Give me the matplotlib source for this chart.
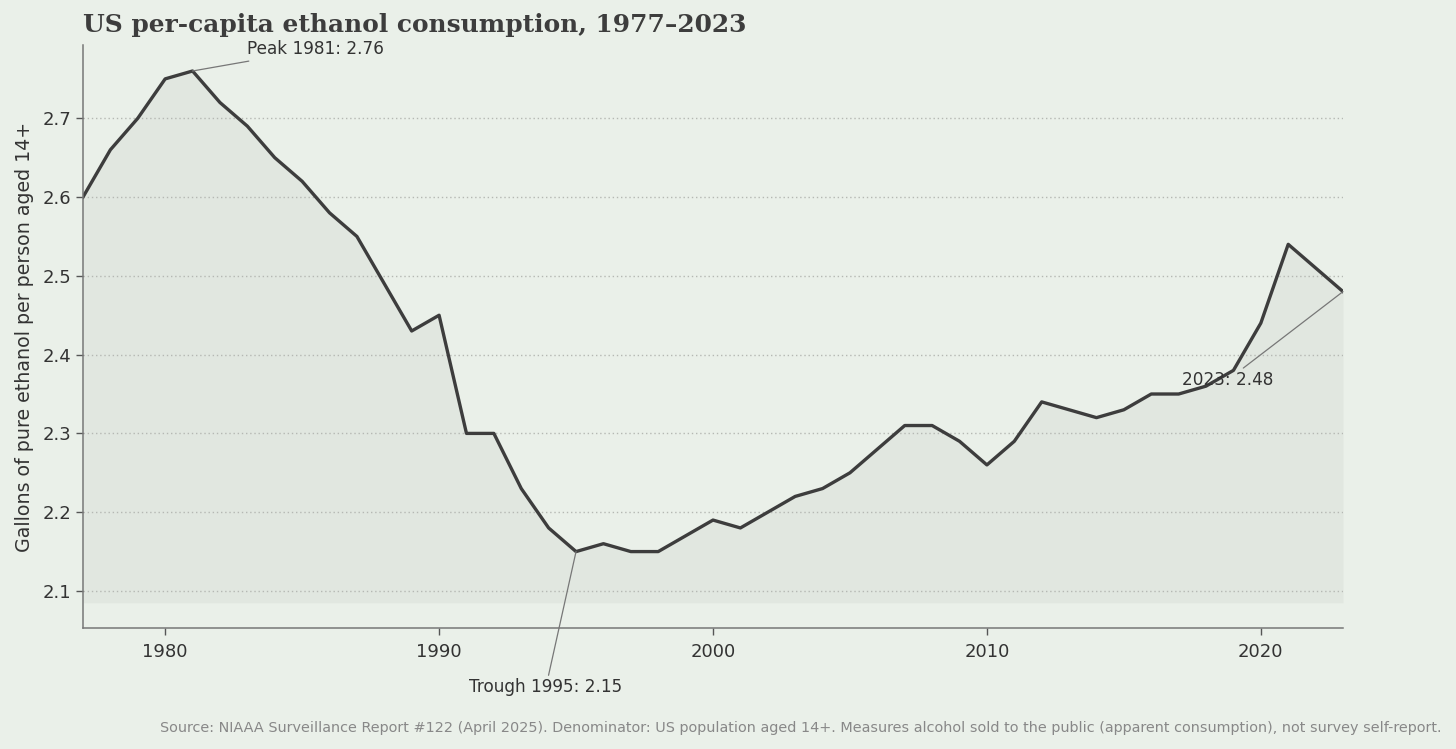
import matplotlib
matplotlib.use("Agg")
import matplotlib.pyplot as plt

years = list(range(1977, 2024))
values = [2.60, 2.66, 2.70, 2.75, 2.76, 2.72, 2.69, 2.65, 2.62, 2.58,
          2.55, 2.49, 2.43, 2.45, 2.30, 2.30, 2.23, 2.18, 2.15, 2.16,
          2.15, 2.15, 2.17, 2.19, 2.18, 2.20, 2.22, 2.23, 2.25, 2.28,
          2.31, 2.31, 2.29, 2.26, 2.29, 2.34, 2.33, 2.32, 2.33, 2.35,
          2.35, 2.36, 2.38, 2.44, 2.54, 2.51, 2.48]
xticks = [1980, 1990, 2000, 2010, 2020]
yticks = [2.1, 2.2, 2.3, 2.4, 2.5, 2.6, 2.7]

BG = "#EAF0E9"
LINE = "#3d3d3d"

fig = plt.figure(figsize=(14.56, 7.49), dpi=100, facecolor=BG)
ax = fig.add_axes([83/1456, 1 - 628/749, (1343-83)/1456, (628-45)/749])
ax.set_facecolor(BG)

base = 2.085
ax.fill_between(years, values, base, color="#dfe5de", alpha=0.8, lw=0)
ax.plot(years, values, color=LINE, lw=2.4, solid_joinstyle="round")

ax.set_xlim(1977, 2023)
ax.set_ylim(2.053, 2.793)
ax.set_xticks(xticks)
ax.set_yticks(yticks)
ax.set_yticklabels([f"{v:.1f}" for v in yticks])
ax.tick_params(labelsize=13, colors="#333333", length=5, width=1, direction="out")
ax.tick_params(axis="both", color="#555555")
ax.tick_params(axis="x", pad=6)
ax.grid(axis="y", linestyle=(0, (1, 2)), color="#b5b8b3", lw=1)
ax.grid(axis="x", visible=False)
for s in ["top", "right"]:
    ax.spines[s].set_visible(False)
for s in ["left", "bottom"]:
    ax.spines[s].set_color("#777777")
    ax.spines[s].set_linewidth(1.1)

ax.set_ylabel("Gallons of pure ethanol per person aged 14+", fontsize=13.7, color="#333333", labelpad=6)

fig.text(83/1456, 1 - 25/749, "US per-capita ethanol consumption, 1977\u20132023",
         family="DejaVu Serif", weight="bold", fontsize=17.9, color="#3d3d3d", va="center", ha="left")

ann_kw = dict(fontsize=12.2, color="#333333", annotation_clip=False,
              arrowprops=dict(arrowstyle="-", color="#777777", lw=0.9, shrinkA=0, shrinkB=0))
i_peak = values.index(max(values))
ax.annotate(f"Peak {years[i_peak]}: {values[i_peak]:.2f}", xy=(years[i_peak], values[i_peak]),
            xytext=(1983.0, 2.7875), ha="left", va="center", **ann_kw)
i_tr = years.index(1995)
ax.annotate(f"Trough {years[i_tr]}: {values[i_tr]:.2f}", xy=(years[i_tr], values[i_tr]),
            xytext=(1993.9, 1.978), ha="center", va="center", **ann_kw)
ax.annotate(f"{years[-1]}: {values[-1]:.2f}", xy=(years[-1], values[-1]),
            xytext=(2018.8, 2.368), ha="center", va="center", **ann_kw)

fig.text(1442/1456, 1 - 728/749,
         "Source: NIAAA Surveillance Report #122 (April 2025). Denominator: US population aged 14+. "
         "Measures alcohol sold to the public (apparent consumption), not survey self-report.",
         fontsize=10.35, color="#888888", ha="right", va="center")

fig.savefig("out.png", dpi=100, facecolor=BG)
